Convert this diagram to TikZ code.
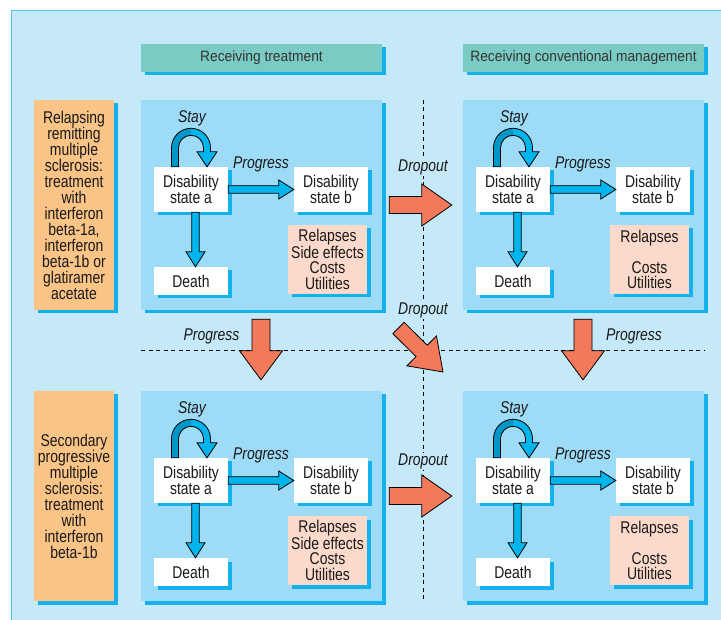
\documentclass[tikz,border=0pt]{standalone}
\usepackage{fontspec}
\setmainfont{Liberation Sans}[FakeStretch=0.82]
\newfontfamily\hdrfont{Liberation Sans}[FakeStretch=0.92]
\usetikzlibrary{calc,shadows}
\definecolor{bgblue}{HTML}{C5E9F8}
\definecolor{borderblue}{HTML}{55C2EE}
\definecolor{panelblue}{HTML}{9EDBF6}
\definecolor{shadowblue}{HTML}{14B1EC}
\definecolor{headteal}{HTML}{7BCBC5}
\definecolor{orangebox}{HTML}{FAC487}
\definecolor{pinkbox}{HTML}{FCDACB}
\definecolor{salmon}{HTML}{F27A5B}
\definecolor{arrowblue}{HTML}{00B4EC}
\definecolor{arcdark}{HTML}{0097C8}
\newcommand\fatarrow[6]{%
  \draw[arrowline, fill=#1]
    ($(#2)!#4!90:(#3)$) --
    ($($(#3)!#6!(#2)$)!#4!90:(#3)$) --
    ($($(#3)!#6!(#2)$)!#5!90:(#3)$) --
    (#3) --
    ($($(#3)!#6!(#2)$)!#5!-90:(#3)$) --
    ($($(#3)!#6!(#2)$)!#4!-90:(#3)$) --
    ($(#2)!#4!-90:(#3)$) -- cycle;}
\tikzset{
  shadowed/.style={drop shadow={shadow xshift=3.5pt, shadow yshift=-3.5pt, fill=shadowblue, opacity=1}},
  basebox/.style={rectangle, inner sep=0pt, align=center, text=black!90, shadowed,
    font=\fontsize{17}{15.5}\selectfont},
  whitebox/.style={basebox, fill=white, minimum width=74pt},
  pinkbx/.style={basebox, fill=pinkbox, minimum width=79pt, minimum height=69pt},
  panelbox/.style={rectangle, inner sep=0pt, fill=panelblue, shadowed, minimum width=241pt, minimum height=210pt},
  headbox/.style={rectangle, inner sep=0pt, fill=headteal, shadowed, minimum width=241pt, minimum height=28pt,
    font=\hdrfont\fontsize{15}{16}\selectfont, text=black!80},
  orangebx/.style={basebox, fill=orangebox, minimum width=80pt, minimum height=210pt,
    font=\fontsize{17}{16}\selectfont},
  lbl/.style={inner sep=1pt, font=\fontsize{17}{16}\selectfont\itshape, text=black!90},
  droplbl/.style={lbl, fill=bgblue},
  arrowline/.style={draw=black, line width=0.8pt, line join=miter},
  dashline/.style={draw=black, line width=0.9pt, dash pattern=on 4pt off 3.5pt},
  pics/stayarc/.style={code={
    \fill[arcdark] (-19.5,0) -- (-19.5,-19) arc[start angle=180,end angle=270,radius=19.5]
      -- (0,-31.5) arc[start angle=270,end angle=180,radius=12.5] -- (-12.5,0) -- cycle;
    \fill[arrowblue] (0,-38.5) arc[start angle=270,end angle=360,radius=19.5]
      -- (19.5,-15) -- (26,-15) -- (16,0) -- (6,-15) -- (12.5,-15) -- (12.5,-19)
      arc[start angle=0,end angle=-90,radius=12.5] -- cycle;
    \draw[arrowline] (-19.5,0) -- (-19.5,-19) arc[start angle=180,end angle=360,radius=19.5]
      -- (19.5,-15) -- (26,-15) -- (16,0) -- (6,-15) -- (12.5,-15) -- (12.5,-19)
      arc[start angle=0,end angle=-180,radius=12.5] -- (-12.5,0) -- cycle;
  }}
}
\newcommand\panelset[4]{%
  \begin{scope}[shift={(#2,#3)}]
    \node[panelbox] (P#1) at (261.5,205) {};
    \node[whitebox, minimum height=45pt] (a#1) at (191,189.5) {Disability\\state a};
    \node[whitebox, minimum height=45pt] (b#1) at (331,189.5) {Disability\\state b};
    \node[whitebox, minimum height=28pt] (d#1) at (191,281) {Death};
    \node[pinkbx] (k#1) at (327.5,259.5) {#4};
    \node[lbl] (s#1) at (192,118.5) {Stay};
    \node[lbl] (g#1) at (261,164.5) {Progress};
    \pic at (a#1.north) {stayarc};
    \fatarrow{arrowblue}{a#1.east}{b#1.west}{3.75pt}{9.5pt}{15pt}
    \coordinate (da#1) at ([xshift=4.5pt]a#1.south);
    \coordinate (dd#1) at ([xshift=4.5pt]d#1.north);
    \fatarrow{arrowblue}{da#1}{dd#1}{3.75pt}{9.5pt}{15pt}
  \end{scope}}
\begin{document}
\begin{tikzpicture}[x=1pt,y=-1pt]
\useasboundingbox (0,0) rectangle (721,620);
\fill[white] (0,0) rectangle (721,620);
\fill[bgblue] (11.5,10.5) rectangle (721,620);
\draw[borderblue, line width=1.6pt] (11.5,620) -- (11.5,10.5) -- (721,10.5);
% dashed separators
\draw[dashline] (423,100) -- (423,600);
\draw[dashline] (141,350) -- (704,350);
% headers
\node[headbox] (H1) at (261.5,58) {Receiving treatment};
\node[headbox] (H2) at (583.5,58) {Receiving conventional management};
% disease boxes
\node[orangebx] (O1) at (74,205) {Relapsing\\remitting\\multiple\\sclerosis:\\treatment\\with\\interferon\\beta-1a,\\interferon\\beta-1b or\\glatiramer\\acetate};
\node[orangebx] (O2) at (74,496) {Secondary\\progressive\\multiple\\sclerosis:\\treatment\\with\\interferon\\beta-1b};
% panels
\panelset{1}{0}{0}{Relapses\\Side effects\\Costs\\Utilities}
\panelset{2}{322}{0}{Relapses\\[15.5pt]Costs\\Utilities}
\panelset{3}{0}{291}{Relapses\\Side effects\\Costs\\Utilities}
\panelset{4}{322}{291}{Relapses\\[15.5pt]Costs\\Utilities}
% transitions between panels
\coordinate (t1) at ([xshift=7pt]P1.east);
\coordinate (h1) at ([xshift=-11pt]P2.west);
\fatarrow{salmon}{t1}{h1}{8.5pt}{21pt}{30pt}
\coordinate (t3) at ([xshift=7pt]P3.east);
\coordinate (h3) at ([xshift=-11pt]P4.west);
\fatarrow{salmon}{t3}{h3}{8.5pt}{21pt}{30pt}
\coordinate (t5) at (398.5,328);
\coordinate (h5) at (443,372);
\fatarrow{salmon}{t5}{h5}{8pt}{21pt}{30pt}
\coordinate (tL) at ([xshift=-0.5pt,yshift=-9pt]P1.south);
\coordinate (hL) at ([xshift=-0.5pt,yshift=11pt]P3.north);
\fatarrow{salmon}{tL}{hL}{9pt}{21.5pt}{29pt}
\coordinate (tR) at ([xshift=-0.5pt,yshift=-9pt]P2.south);
\coordinate (hR) at ([xshift=-0.5pt,yshift=11pt]P4.north);
\fatarrow{salmon}{tR}{hR}{9pt}{21.5pt}{29pt}
% labels
\node[droplbl] (L1) at (423,167.5) {Dropout};
\node[droplbl] (L2) at (423,310) {Dropout};
\node[droplbl] (L3) at (423,461.5) {Dropout};
\node[lbl] (L4) at (211.5,336.5) {Progress};
\node[lbl] (L5) at (634,336.5) {Progress};
\end{tikzpicture}
\end{document}
